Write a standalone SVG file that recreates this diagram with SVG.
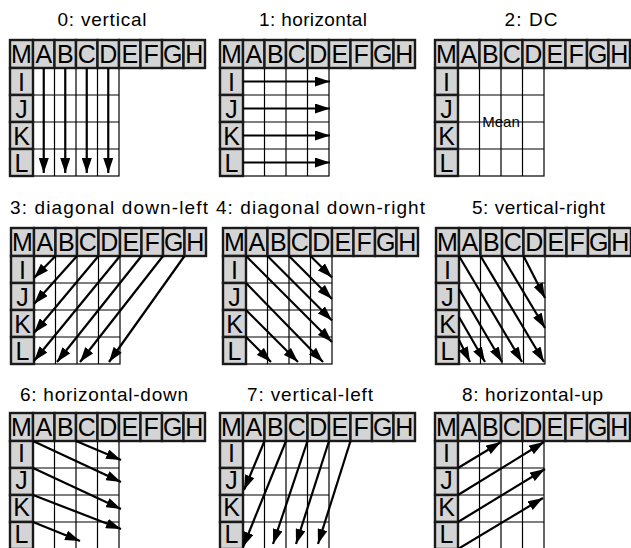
<svg xmlns="http://www.w3.org/2000/svg" xmlns:xlink="http://www.w3.org/1999/xlink" width="631" height="548" viewBox="0 0 631 548">
<style>
.t{font-family:"Liberation Sans",Arial,sans-serif;font-size:19px;fill:#000;text-anchor:middle}
.lab{font-family:"Liberation Sans",Arial,sans-serif;font-size:25px;fill:#000;text-anchor:middle}
.mean{font-family:"Liberation Sans",Arial,sans-serif;font-size:15px;fill:#000;text-anchor:middle}
.cell{fill:#d4d4d4;stroke:#1a1a1a;stroke-width:2.4}
.gl{stroke:#000;stroke-width:1.2;fill:none}
.ar{stroke:#000;stroke-width:2.2;fill:none;marker-end:url(#ah)}
</style>
<defs>
<marker id="ah" markerUnits="userSpaceOnUse" markerWidth="15" markerHeight="10" refX="15" refY="5" orient="auto" viewBox="0 0 15 10"><path d="M0,0 L15,5 L0,10 z" fill="#000"/></marker>
<g id="base">
<rect x="23" y="28" width="86" height="108" fill="#fff" class="gl"/>
<path class="gl" d="M44.5,28V136M66,28V136M87.5,28V136M23,55H109M23,82H109M23,109H109"/>
<rect class="cell" x="0" y="0" width="23" height="28"/>
<rect class="cell" x="23" y="0" width="21.5" height="28"/>
<rect class="cell" x="44.5" y="0" width="21.5" height="28"/>
<rect class="cell" x="66" y="0" width="21.5" height="28"/>
<rect class="cell" x="87.5" y="0" width="21.5" height="28"/>
<rect class="cell" x="109" y="0" width="21.5" height="28"/>
<rect class="cell" x="130.5" y="0" width="21.5" height="28"/>
<rect class="cell" x="152" y="0" width="21.5" height="28"/>
<rect class="cell" x="173.5" y="0" width="21.5" height="28"/>
<rect class="cell" x="0" y="28" width="23" height="27"/>
<rect class="cell" x="0" y="55" width="23" height="27"/>
<rect class="cell" x="0" y="82" width="23" height="27"/>
<rect class="cell" x="0" y="109" width="23" height="27"/>
</g>
</defs>
<rect width="631" height="548" fill="#fff"/>

<g id="p0" transform="translate(10,40)">
<text class="t" x="92" y="-14" textLength="89">0: vertical</text>
<use href="#base"/>
<text class="lab" y="23"><tspan x="11.5">M</tspan><tspan x="33.75">A</tspan><tspan x="55.25">B</tspan><tspan x="76.75">C</tspan><tspan x="98.25">D</tspan><tspan x="119.75">E</tspan><tspan x="141.25">F</tspan><tspan x="162.75">G</tspan><tspan x="184.25">H</tspan></text>
<text class="lab"><tspan x="11.5" y="50.5">I</tspan><tspan x="11.5" y="77.5">J</tspan><tspan x="11.5" y="104.5">K</tspan><tspan x="11.5" y="131.5">L</tspan></text>
</g>
<g id="p1" transform="translate(220,40)">
<text class="t" x="93" y="-14" textLength="108">1: horizontal</text>
<use href="#base"/>
<text class="lab" y="23"><tspan x="11.5">M</tspan><tspan x="33.75">A</tspan><tspan x="55.25">B</tspan><tspan x="76.75">C</tspan><tspan x="98.25">D</tspan><tspan x="119.75">E</tspan><tspan x="141.25">F</tspan><tspan x="162.75">G</tspan><tspan x="184.25">H</tspan></text>
<text class="lab"><tspan x="11.5" y="50.5">I</tspan><tspan x="11.5" y="77.5">J</tspan><tspan x="11.5" y="104.5">K</tspan><tspan x="11.5" y="131.5">L</tspan></text>
</g>
<g id="p2" transform="translate(435,40)">
<text class="t" x="96" y="-14" textLength="53">2: DC</text>
<use href="#base"/>
<text class="lab" y="23"><tspan x="11.5">M</tspan><tspan x="33.75">A</tspan><tspan x="55.25">B</tspan><tspan x="76.75">C</tspan><tspan x="98.25">D</tspan><tspan x="119.75">E</tspan><tspan x="141.25">F</tspan><tspan x="162.75">G</tspan><tspan x="184.25">H</tspan></text>
<text class="lab"><tspan x="11.5" y="50.5">I</tspan><tspan x="11.5" y="77.5">J</tspan><tspan x="11.5" y="104.5">K</tspan><tspan x="11.5" y="131.5">L</tspan></text>
<text class="mean" x="66" y="87">Mean</text>
</g>
<g id="p3" transform="translate(11,228)">
<text class="t" x="98" y="-14" textLength="198">3: diagonal down-left</text>
<use href="#base"/>
<text class="lab" y="23"><tspan x="11.5">M</tspan><tspan x="33.75">A</tspan><tspan x="55.25">B</tspan><tspan x="76.75">C</tspan><tspan x="98.25">D</tspan><tspan x="119.75">E</tspan><tspan x="141.25">F</tspan><tspan x="162.75">G</tspan><tspan x="184.25">H</tspan></text>
<text class="lab"><tspan x="11.5" y="50.5">I</tspan><tspan x="11.5" y="77.5">J</tspan><tspan x="11.5" y="104.5">K</tspan><tspan x="11.5" y="131.5">L</tspan></text>
</g>
<g id="p4" transform="translate(223,228)">
<text class="t" x="97.5" y="-14" textLength="209">4: diagonal down-right</text>
<use href="#base"/>
<text class="lab" y="23"><tspan x="11.5">M</tspan><tspan x="33.75">A</tspan><tspan x="55.25">B</tspan><tspan x="76.75">C</tspan><tspan x="98.25">D</tspan><tspan x="119.75">E</tspan><tspan x="141.25">F</tspan><tspan x="162.75">G</tspan><tspan x="184.25">H</tspan></text>
<text class="lab"><tspan x="11.5" y="50.5">I</tspan><tspan x="11.5" y="77.5">J</tspan><tspan x="11.5" y="104.5">K</tspan><tspan x="11.5" y="131.5">L</tspan></text>
</g>
<g id="p5" transform="translate(436,228)">
<text class="t" x="102.5" y="-14" textLength="133">5: vertical-right</text>
<use href="#base"/>
<text class="lab" y="23"><tspan x="11.5">M</tspan><tspan x="33.75">A</tspan><tspan x="55.25">B</tspan><tspan x="76.75">C</tspan><tspan x="98.25">D</tspan><tspan x="119.75">E</tspan><tspan x="141.25">F</tspan><tspan x="162.75">G</tspan><tspan x="184.25">H</tspan></text>
<text class="lab"><tspan x="11.5" y="50.5">I</tspan><tspan x="11.5" y="77.5">J</tspan><tspan x="11.5" y="104.5">K</tspan><tspan x="11.5" y="131.5">L</tspan></text>
</g>
<g id="p6" transform="translate(10,413)">
<text class="t" x="94" y="-12" textLength="168">6: horizontal-down</text>
<use href="#base"/>
<text class="lab" y="23"><tspan x="11.5">M</tspan><tspan x="33.75">A</tspan><tspan x="55.25">B</tspan><tspan x="76.75">C</tspan><tspan x="98.25">D</tspan><tspan x="119.75">E</tspan><tspan x="141.25">F</tspan><tspan x="162.75">G</tspan><tspan x="184.25">H</tspan></text>
<text class="lab"><tspan x="11.5" y="48.5">I</tspan><tspan x="11.5" y="75.5">J</tspan><tspan x="11.5" y="102.5">K</tspan><tspan x="11.5" y="129.5">L</tspan></text>
</g>
<g id="p7" transform="translate(220,413)">
<text class="t" x="90" y="-12" textLength="126">7: vertical-left</text>
<use href="#base"/>
<text class="lab" y="23"><tspan x="11.5">M</tspan><tspan x="33.75">A</tspan><tspan x="55.25">B</tspan><tspan x="76.75">C</tspan><tspan x="98.25">D</tspan><tspan x="119.75">E</tspan><tspan x="141.25">F</tspan><tspan x="162.75">G</tspan><tspan x="184.25">H</tspan></text>
<text class="lab"><tspan x="11.5" y="48.5">I</tspan><tspan x="11.5" y="75.5">J</tspan><tspan x="11.5" y="102.5">K</tspan><tspan x="11.5" y="129.5">L</tspan></text>
</g>
<g id="p8" transform="translate(435,413)">
<text class="t" x="97.5" y="-12" textLength="141">8: horizontal-up</text>
<use href="#base"/>
<text class="lab" y="23"><tspan x="11.5">M</tspan><tspan x="33.75">A</tspan><tspan x="55.25">B</tspan><tspan x="76.75">C</tspan><tspan x="98.25">D</tspan><tspan x="119.75">E</tspan><tspan x="141.25">F</tspan><tspan x="162.75">G</tspan><tspan x="184.25">H</tspan></text>
<text class="lab"><tspan x="11.5" y="48.5">I</tspan><tspan x="11.5" y="75.5">J</tspan><tspan x="11.5" y="102.5">K</tspan><tspan x="11.5" y="129.5">L</tspan></text>
</g>

<g id="connectors">
<g transform="translate(10,40)">
<line class="ar" x1="33.75" y1="28" x2="33.75" y2="133"/>
<line class="ar" x1="55.25" y1="28" x2="55.25" y2="133"/>
<line class="ar" x1="76.75" y1="28" x2="76.75" y2="133"/>
<line class="ar" x1="98.25" y1="28" x2="98.25" y2="133"/>
</g>
<g transform="translate(220,40)">
<line class="ar" x1="23" y1="41.5" x2="110" y2="41.5"/>
<line class="ar" x1="23" y1="68.5" x2="110" y2="68.5"/>
<line class="ar" x1="23" y1="95.5" x2="110" y2="95.5"/>
<line class="ar" x1="23" y1="122.5" x2="110" y2="122.5"/>
</g>
<g transform="translate(11,228)">
<line class="ar" x1="44.5" y1="28" x2="23" y2="50"/>
<line class="ar" x1="66" y1="28" x2="23" y2="76"/>
<line class="ar" x1="87.5" y1="28" x2="23" y2="105"/>
<line class="ar" x1="109" y1="28" x2="23" y2="133"/>
<line class="ar" x1="130.5" y1="28" x2="46" y2="134"/>
<line class="ar" x1="152" y1="28" x2="69" y2="134"/>
<line class="ar" x1="173.5" y1="28" x2="98" y2="134"/>
</g>
<g transform="translate(223,228)">
<line class="ar" x1="87.5" y1="28" x2="109" y2="49.5"/>
<line class="ar" x1="66" y1="28" x2="109" y2="71"/>
<line class="ar" x1="44.5" y1="28" x2="109" y2="92.5"/>
<line class="ar" x1="23" y1="28" x2="109" y2="114"/>
<line class="ar" x1="23" y1="55" x2="100" y2="134"/>
<line class="ar" x1="23" y1="82" x2="75" y2="134"/>
<line class="ar" x1="23" y1="109" x2="48" y2="134"/>
</g>
<g transform="translate(436,228)">
<line class="ar" x1="87.5" y1="28" x2="109" y2="70"/>
<line class="ar" x1="66" y1="28" x2="109" y2="100"/>
<line class="ar" x1="44.5" y1="28" x2="108" y2="134"/>
<line class="ar" x1="23" y1="28" x2="86" y2="134"/>
<line class="ar" x1="23" y1="61" x2="66" y2="134"/>
<line class="ar" x1="23" y1="89" x2="49" y2="134"/>
<line class="ar" x1="23" y1="112" x2="34" y2="134"/>
</g>
<g transform="translate(10,413)">
<line class="ar" x1="23" y1="28" x2="111" y2="69"/>
<line class="ar" x1="66" y1="28" x2="111" y2="47"/>
<line class="ar" x1="23" y1="55" x2="111" y2="96"/>
<line class="ar" x1="23" y1="82" x2="111" y2="116"/>
<line class="ar" x1="23" y1="109" x2="70" y2="128"/>
</g>
<g transform="translate(220,413)">
<line class="ar" x1="44.5" y1="28" x2="24" y2="77"/>
<line class="ar" x1="66" y1="28" x2="23" y2="134"/>
<line class="ar" x1="87.5" y1="28" x2="53" y2="131"/>
<line class="ar" x1="109" y1="28" x2="76" y2="131"/>
<line class="ar" x1="130.5" y1="28" x2="98" y2="131"/>
</g>
<g transform="translate(435,413)">
<line class="ar" x1="23" y1="55" x2="66" y2="29"/>
<line class="ar" x1="23" y1="82" x2="109" y2="29"/>
<line class="ar" x1="23" y1="109" x2="110" y2="56"/>
<line class="ar" x1="23" y1="136" x2="108" y2="85"/>
</g>
</g>
</svg>
